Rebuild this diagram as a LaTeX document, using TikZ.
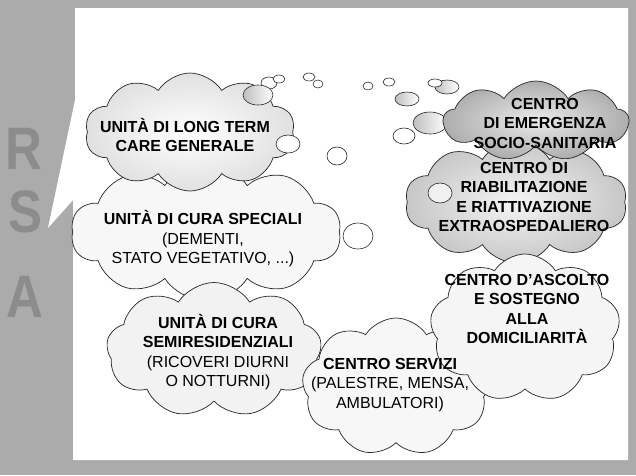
\documentclass[tikz,border=0pt]{standalone}
\usepackage{fontspec}
\setmainfont{Liberation Sans}
\usetikzlibrary{shapes.symbols}
\tikzset{
  nuvola/.style={cloud, draw=black!85, line width=0.7pt, cloud ignores aspect,
    cloud puffs=#1, cloud puff arc=115, inner sep=0pt},
  testo/.style={align=center, font=\fontsize{16}{19.5}\selectfont},
  bolla/.style={draw=black!85, line width=0.6pt, fill=white},
  bollagrigia/.style={bolla, left color=black!25, right color=white},
  lettera/.style={font=\fontsize{60}{60}\selectfont\bfseries, xscale=0.85, inner sep=0pt, text=black!45}
}
\begin{document}
\begin{tikzpicture}[x=1pt, y=-1pt]
  \fill[black!33] (0,0) rectangle (636,475);
  \useasboundingbox (0,0) rectangle (636,475);
  \fill[white] (75,8) -- (628,8) -- (628,460) -- (73,460) -- (73,200) -- (48,228) -- (75,100) -- cycle;
  \foreach \l/\px/\py in {R/24/149, S/26/212, A/25/297}
    \node[lettera] (lett-\l) at (\px,\py) {\l};
  \node[nuvola=10, minimum width=270pt, minimum height=138pt, fill=black!3] (speciali) at (206,232) {};
  \node[nuvola=10, minimum width=210pt, minimum height=118pt, inner color=white, outer color=black!12] (longterm) at (190,132) {};
  \node[nuvola=9, minimum width=215pt, minimum height=135pt, fill=black!5] (semires) at (214,350) {};
  \node[nuvola=9, minimum width=188pt, minimum height=138pt, fill=black!3] (servizi) at (396,387) {};
  \foreach \bx/\by/\rx/\ry in {269/83/8/6, 279/79/6/4, 309/77/6/4, 318/84/5/4, 368/86/5/4, 389/82/6/4,
      404/136/11/8, 337/156/10/9, 358/236/15/13, 288/144/12/9}
    \draw[bolla] (\bx,\by) ellipse [x radius=\rx, y radius=\ry];
  \foreach \bx/\by/\rx/\ry in {258/95/15/10, 407/99/12/7, 430/123/17/11}
    \draw[bollagrigia] (\bx,\by) ellipse [x radius=\rx, y radius=\ry];
  \node[nuvola=10, minimum width=222pt, minimum height=122pt, inner color=black!4, outer color=black!22] (riabil) at (516,202) {};
  \draw[bolla, fill=black!6] (440,193) ellipse [x radius=12, y radius=10];
  \node[nuvola=9, minimum width=185pt, minimum height=80pt, inner color=black!8, outer color=black!32] (emergenza) at (536,121) {};
  \draw[bollagrigia] (447,87) ellipse [x radius=12, y radius=7];
  \draw[bolla] (435,83) ellipse [x radius=7, y radius=4];
  \node[nuvola=9, minimum width=190pt, minimum height=148pt, fill=black!4] (ascolto) at (525,328) {};

  \node[testo] (t-longterm) at (185,135) {\textbf{UNITÀ DI LONG TERM}\\\textbf{CARE GENERALE}};
  \node[testo] (t-speciali) at (203,239) {\textbf{UNITÀ DI CURA SPECIALI}\\(DEMENTI,\\STATO VEGETATIVO, ...)};
  \node[testo] (t-semires) at (218,352) {\textbf{UNITÀ DI CURA}\\\textbf{SEMIRESIDENZIALI}\\(RICOVERI DIURNI\\O NOTTURNI)};
  \node[testo] (t-servizi) at (390,385) {\textbf{CENTRO SERVIZI}\\(PALESTRE, MENSA,\\AMBULATORI)};
  \node[testo] (t-ascolto) at (527,309) {\textbf{CENTRO D’ASCOLTO}\\\textbf{E SOSTEGNO}\\\textbf{ALLA}\\\textbf{DOMICILIARITÀ}};
  \node[testo] (t-riabil) at (524,197) {\textbf{CENTRO DI}\\\textbf{RIABILITAZIONE}\\\textbf{E RIATTIVAZIONE}\\\textbf{EXTRAOSPEDALIERO}};
  \node[testo] (t-emergenza) at (545,123) {\textbf{CENTRO}\\\textbf{DI EMERGENZA}\\\textbf{SOCIO-SANITARIA}};
\end{tikzpicture}
\end{document}
